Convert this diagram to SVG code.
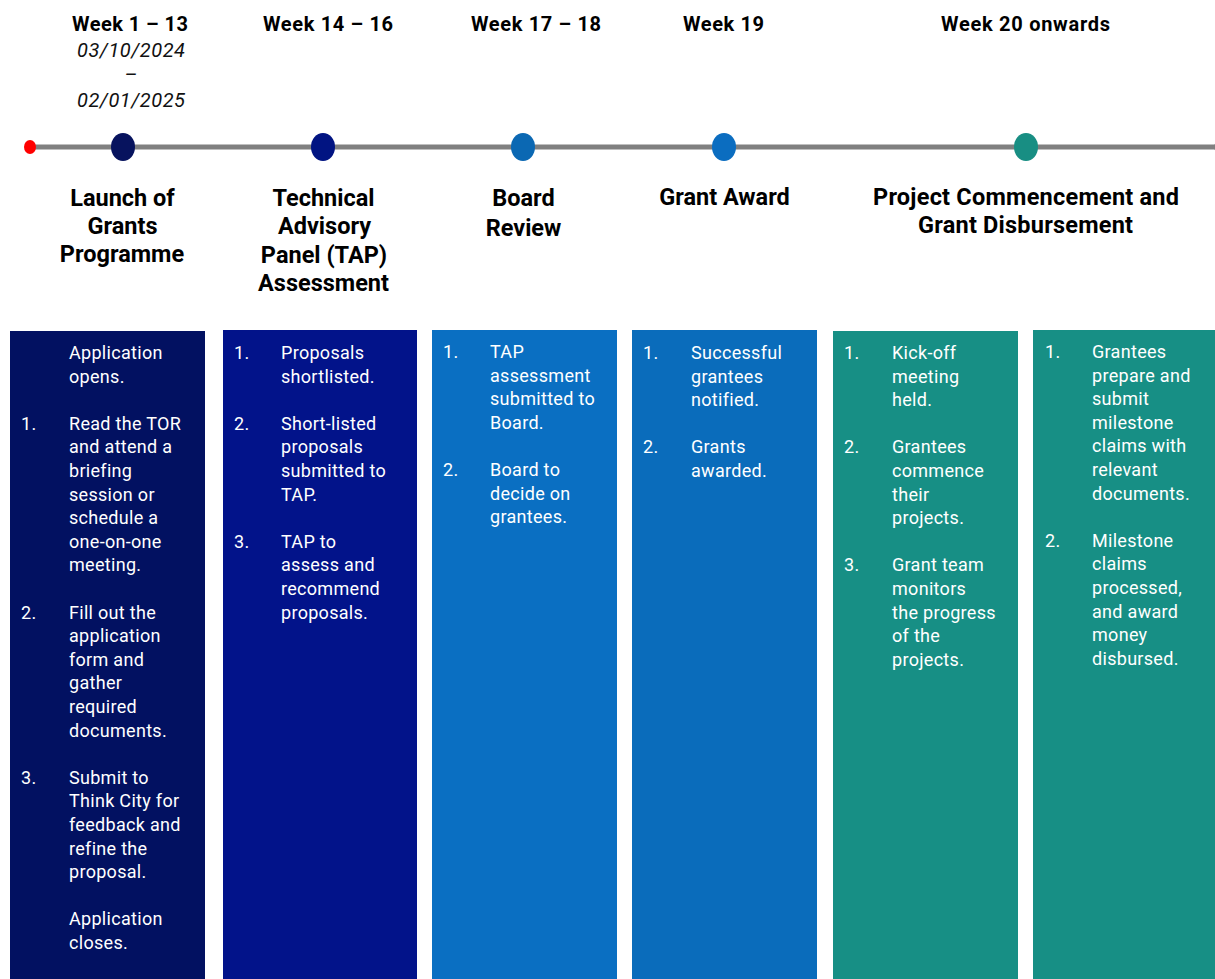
<svg xmlns="http://www.w3.org/2000/svg" width="1215" height="979" viewBox="0 0 1215 979">
<style>
.wk{font-family:Roboto,"Liberation Sans",sans-serif;font-weight:bold;font-size:20px;fill:#000;text-anchor:middle}
.dt{font-family:Roboto,"Liberation Sans",sans-serif;font-style:italic;font-size:20px;fill:#111;text-anchor:middle}
.ti{font-family:Roboto,"Liberation Sans",sans-serif;font-weight:bold;font-size:23.5px;fill:#000;text-anchor:middle}
.bd{font-family:Roboto,"Liberation Sans",sans-serif;font-size:18px;letter-spacing:0.3px;fill:#fff}
</style>
<rect width="1215" height="979" fill="#fff"/>
<g id="connectors">
<line x1="30" y1="147" x2="1215" y2="147" stroke="#808080" stroke-width="5"/>
<circle cx="1220" cy="147" r="6" fill="#808080"/>
<ellipse cx="30" cy="147" rx="6" ry="7" fill="#ff0000"/>
</g>
<g id="stage1">
<text class="wk" x="130" y="31" textLength="116" lengthAdjust="spacing">Week 1 – 13</text>
<text class="dt" x="131" y="57" textLength="108" lengthAdjust="spacing">03/10/2024</text>
<text class="dt" x="131" y="81">–</text>
<text class="dt" x="131" y="107" textLength="108" lengthAdjust="spacing">02/01/2025</text>
<ellipse cx="123" cy="147" rx="12" ry="14" fill="#07135e"/>
<text class="ti" x="122.5" y="206">Launch of</text>
<text class="ti" x="122.5" y="234">Grants</text>
<text class="ti" x="122" y="262">Programme</text>
<rect x="10" y="331" width="195" height="648" fill="#021161"/>
<text class="bd">
<tspan x="69" y="359">Application</tspan>
<tspan x="69" y="382.6">opens.</tspan>
<tspan x="21" y="429.8">1.</tspan><tspan x="69" y="429.8">Read the TOR</tspan>
<tspan x="69" y="453.4">and attend a</tspan>
<tspan x="69" y="477">briefing</tspan>
<tspan x="69" y="500.6">session or</tspan>
<tspan x="69" y="524.2">schedule a</tspan>
<tspan x="69" y="547.8">one-on-one</tspan>
<tspan x="69" y="571.4">meeting.</tspan>
<tspan x="21" y="618.6">2.</tspan><tspan x="69" y="618.6">Fill out the</tspan>
<tspan x="69" y="642.2">application</tspan>
<tspan x="69" y="665.8">form and</tspan>
<tspan x="69" y="689.4">gather</tspan>
<tspan x="69" y="713">required</tspan>
<tspan x="69" y="736.6">documents.</tspan>
<tspan x="21" y="783.8">3.</tspan><tspan x="69" y="783.8">Submit to</tspan>
<tspan x="69" y="807.4">Think City for</tspan>
<tspan x="69" y="831">feedback and</tspan>
<tspan x="69" y="854.6">refine the</tspan>
<tspan x="69" y="878.2">proposal.</tspan>
<tspan x="69" y="925.4">Application</tspan>
<tspan x="69" y="949">closes.</tspan>
</text>
</g>
<g id="stage2">
<text class="wk" x="328" y="31" textLength="130" lengthAdjust="spacing">Week 14 – 16</text>
<ellipse cx="323" cy="147" rx="12" ry="14" fill="#011482"/>
<text class="ti" x="323.5" y="206">Technical</text>
<text class="ti" x="324.5" y="234">Advisory</text>
<text class="ti" x="324" y="263">Panel (TAP)</text>
<text class="ti" x="323.5" y="291">Assessment</text>
<rect x="223" y="330" width="194" height="649" fill="#02138a"/>
<text class="bd">
<tspan x="234" y="359">1.</tspan><tspan x="281" y="359">Proposals</tspan>
<tspan x="281" y="382.6">shortlisted.</tspan>
<tspan x="234" y="429.8">2.</tspan><tspan x="281" y="429.8">Short-listed</tspan>
<tspan x="281" y="453.4">proposals</tspan>
<tspan x="281" y="477">submitted to</tspan>
<tspan x="281" y="500.6">TAP.</tspan>
<tspan x="234" y="547.8">3.</tspan><tspan x="281" y="547.8">TAP to</tspan>
<tspan x="281" y="571.4">assess and</tspan>
<tspan x="281" y="595">recommend</tspan>
<tspan x="281" y="618.6">proposals.</tspan>
</text>
</g>
<g id="stage3">
<text class="wk" x="536" y="31" textLength="130" lengthAdjust="spacing">Week 17 – 18</text>
<ellipse cx="523" cy="147" rx="12" ry="14" fill="#0b68b3"/>
<text class="ti" x="523.5" y="206">Board</text>
<text class="ti" x="523.5" y="236">Review</text>
<rect x="432" y="330" width="185" height="649" fill="#0a6fc2"/>
<text class="bd">
<tspan x="443" y="358">1.</tspan><tspan x="490" y="358">TAP</tspan>
<tspan x="490" y="381.6">assessment</tspan>
<tspan x="490" y="405.2">submitted to</tspan>
<tspan x="490" y="428.8">Board.</tspan>
<tspan x="443" y="476">2.</tspan><tspan x="490" y="476">Board to</tspan>
<tspan x="490" y="499.6">decide on</tspan>
<tspan x="490" y="523.2">grantees.</tspan>
</text>
</g>
<g id="stage4">
<text class="wk" x="723.5" y="31" textLength="81" lengthAdjust="spacing">Week 19</text>
<ellipse cx="724" cy="147" rx="12" ry="14" fill="#0b6dc0"/>
<text class="ti" x="724.5" y="205">Grant Award</text>
<rect x="632" y="330" width="185" height="649" fill="#0a6cbb"/>
<text class="bd">
<tspan x="643" y="359">1.</tspan><tspan x="691" y="359">Successful</tspan>
<tspan x="691" y="382.6">grantees</tspan>
<tspan x="691" y="406.2">notified.</tspan>
<tspan x="643" y="453.4">2.</tspan><tspan x="691" y="453.4">Grants</tspan>
<tspan x="691" y="477">awarded.</tspan>
</text>
</g>
<g id="stage5">
<text class="wk" x="1025.5" y="31" textLength="169" lengthAdjust="spacing">Week 20 onwards</text>
<ellipse cx="1026" cy="147" rx="12" ry="14" fill="#188e83"/>
<text class="ti" x="1026" y="205" textLength="306" lengthAdjust="spacing">Project Commencement and</text>
<text class="ti" x="1025.5" y="233" textLength="215" lengthAdjust="spacing">Grant Disbursement</text>
<rect x="833" y="331" width="185" height="648" fill="#178f85"/>
<text class="bd">
<tspan x="844" y="359">1.</tspan><tspan x="892" y="359">Kick-off</tspan>
<tspan x="892" y="382.6">meeting</tspan>
<tspan x="892" y="406.2">held.</tspan>
<tspan x="844" y="453.4">2.</tspan><tspan x="892" y="453.4">Grantees</tspan>
<tspan x="892" y="477">commence</tspan>
<tspan x="892" y="500.6">their</tspan>
<tspan x="892" y="524.2">projects.</tspan>
<tspan x="844" y="571.4">3.</tspan><tspan x="892" y="571.4">Grant team</tspan>
<tspan x="892" y="595">monitors</tspan>
<tspan x="892" y="618.6">the progress</tspan>
<tspan x="892" y="642.2">of the</tspan>
<tspan x="892" y="665.8">projects.</tspan>
</text>
<rect x="1033" y="330" width="182" height="649" fill="#178f85"/>
<text class="bd">
<tspan x="1045" y="358">1.</tspan><tspan x="1092" y="358">Grantees</tspan>
<tspan x="1092" y="381.6">prepare and</tspan>
<tspan x="1092" y="405.2">submit</tspan>
<tspan x="1092" y="428.8">milestone</tspan>
<tspan x="1092" y="452.4">claims with</tspan>
<tspan x="1092" y="476">relevant</tspan>
<tspan x="1092" y="499.6">documents.</tspan>
<tspan x="1045" y="546.8">2.</tspan><tspan x="1092" y="546.8">Milestone</tspan>
<tspan x="1092" y="570.4">claims</tspan>
<tspan x="1092" y="594">processed,</tspan>
<tspan x="1092" y="617.6">and award</tspan>
<tspan x="1092" y="641.2">money</tspan>
<tspan x="1092" y="664.8">disbursed.</tspan>
</text>
</g>
</svg>
